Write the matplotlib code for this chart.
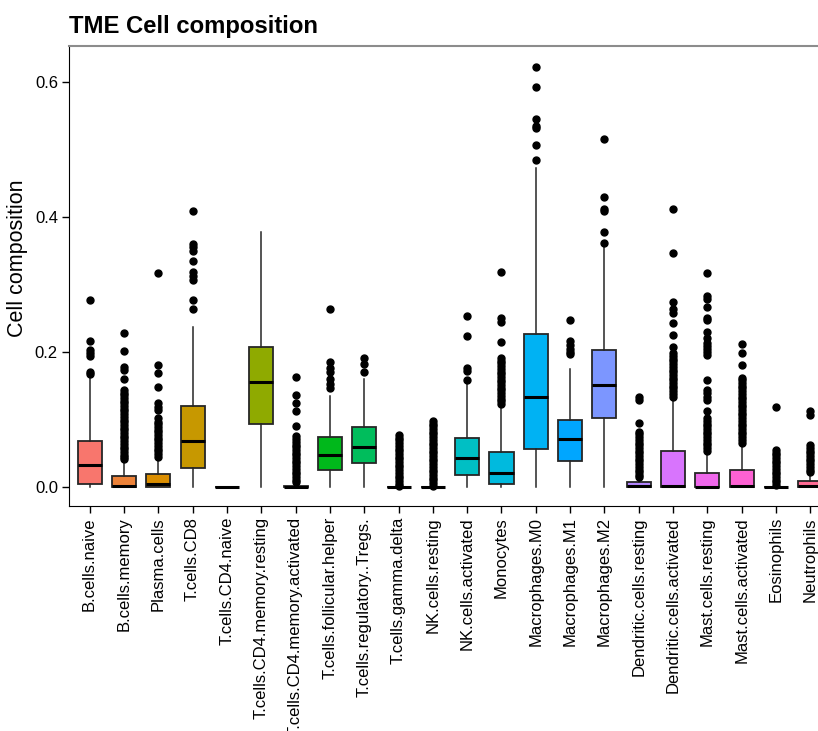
import matplotlib
matplotlib.use("Agg")
import matplotlib.pyplot as plt
import numpy as np

plt.rcParams['font.family'] = ['Liberation Sans', 'DejaVu Sans']

cell_types = ["B.cells.naive", "B.cells.memory", "Plasma.cells", "T.cells.CD8",
              "T.cells.CD4.naive", "T.cells.CD4.memory.resting",
              "T.cells.CD4.memory.activated", "T.cells.follicular.helper",
              "T.cells.regulatory..Tregs.", "T.cells.gamma.delta", "NK.cells.resting",
              "NK.cells.activated", "Monocytes", "Macrophages.M0", "Macrophages.M1",
              "Macrophages.M2", "Dendritic.cells.resting", "Dendritic.cells.activated",
              "Mast.cells.resting", "Mast.cells.activated", "Eosinophils", "Neutrophils"]

# box statistics
q1 = [0.004, 0.000, 0.000, 0.028, 0.000, 0.094, 0.000, 0.026, 0.036, 0.000, 0.000,
      0.018, 0.004, 0.056, 0.039, 0.103, 0.000, 0.000, 0.000, 0.000, 0.000, 0.000]
med = [0.032, 0.001, 0.005, 0.068, 0.000, 0.156, 0.000, 0.047, 0.060, 0.000, 0.000,
       0.043, 0.021, 0.133, 0.071, 0.151, 0.001, 0.002, 0.000, 0.001, 0.000, 0.001]
q3 = [0.068, 0.017, 0.019, 0.120, 0.000, 0.208, 0.002, 0.074, 0.089, 0.000, 0.000,
      0.072, 0.052, 0.226, 0.100, 0.203, 0.007, 0.054, 0.021, 0.026, 0.000, 0.009]
whis_lo = [0.0] * 22
whis_hi = [0.163, 0.037, 0.042, 0.237, 0.000, 0.378, 0.004, 0.135, 0.160, 0.000, 0.000,
           0.152, 0.119, 0.472, 0.175, 0.355, 0.013, 0.131, 0.050, 0.062, 0.000, 0.016]

outliers = [
    [0.277, 0.216, 0.203, 0.198, 0.194, 0.171, 0.167],
    [0.228, 0.202, 0.178, 0.173, 0.160, 0.144, 0.140, 0.136, 0.132, 0.128, 0.124, 0.120,
     0.116, 0.112, 0.108, 0.104, 0.100, 0.096, 0.092, 0.088, 0.084, 0.080, 0.076, 0.072,
     0.068, 0.064, 0.060, 0.056, 0.052, 0.048, 0.044, 0.041],
    [0.317, 0.181, 0.169, 0.148, 0.125, 0.119, 0.114, 0.102, 0.097, 0.093, 0.089, 0.085,
     0.081, 0.077, 0.073, 0.069, 0.065, 0.061, 0.057, 0.053, 0.049, 0.045],
    [0.408, 0.360, 0.355, 0.350, 0.334, 0.319, 0.313, 0.306, 0.277, 0.264],
    [],
    [],
    [0.163, 0.137, 0.125, 0.113, 0.090, 0.075, 0.071, 0.067, 0.063, 0.059, 0.055, 0.051,
     0.047, 0.043, 0.039, 0.035, 0.031, 0.027, 0.023, 0.019, 0.015, 0.011, 0.007],
    [0.263, 0.185, 0.176, 0.171, 0.160, 0.153, 0.146],
    [0.191, 0.182, 0.170],
    [0.077, 0.073, 0.069, 0.065, 0.061, 0.057, 0.053, 0.049, 0.045, 0.041, 0.037, 0.033,
     0.029, 0.025, 0.021, 0.017, 0.013, 0.009, 0.005, 0.002],
    [0.098, 0.094, 0.090, 0.086, 0.082, 0.078, 0.074, 0.070, 0.066, 0.062, 0.058, 0.054,
     0.050, 0.046, 0.042, 0.038, 0.034, 0.030, 0.026, 0.022, 0.018, 0.014, 0.010, 0.006,
     0.002],
    [0.253, 0.224, 0.176, 0.172, 0.158],
    [0.318, 0.251, 0.245, 0.215, 0.191, 0.187, 0.183, 0.179, 0.175, 0.171, 0.167, 0.163,
     0.159, 0.155, 0.151, 0.147, 0.143, 0.139, 0.135, 0.131, 0.127, 0.123],
    [0.622, 0.592, 0.545, 0.535, 0.531, 0.507, 0.484],
    [0.247, 0.216, 0.210, 0.205, 0.200, 0.197],
    [0.516, 0.429, 0.412, 0.408, 0.378, 0.362],
    [0.134, 0.129, 0.095, 0.082, 0.078, 0.074, 0.070, 0.066, 0.062, 0.058, 0.054, 0.050,
     0.046, 0.042, 0.038, 0.034, 0.030, 0.026, 0.022, 0.018, 0.015],
    [0.411, 0.346, 0.274, 0.264, 0.257, 0.243, 0.225, 0.208, 0.198, 0.194, 0.190, 0.186,
     0.182, 0.178, 0.174, 0.170, 0.166, 0.162, 0.158, 0.154, 0.150, 0.146, 0.142, 0.138,
     0.134],
    [0.317, 0.283, 0.279, 0.266, 0.251, 0.247, 0.229, 0.220, 0.213, 0.209, 0.205, 0.200,
     0.196, 0.159, 0.144, 0.139, 0.134, 0.129, 0.112, 0.102, 0.098, 0.094, 0.090, 0.086,
     0.082, 0.078, 0.074, 0.070, 0.066, 0.062, 0.058, 0.054],
    [0.212, 0.199, 0.181, 0.162, 0.158, 0.154, 0.150, 0.146, 0.142, 0.138, 0.134, 0.130,
     0.126, 0.122, 0.118, 0.114, 0.110, 0.106, 0.102, 0.098, 0.094, 0.090, 0.086, 0.082,
     0.078, 0.074, 0.070, 0.066],
    [0.119, 0.055, 0.051, 0.047, 0.043, 0.039, 0.035, 0.031, 0.027, 0.023, 0.019, 0.015,
     0.011, 0.007, 0.003],
    [0.112, 0.106, 0.062, 0.058, 0.054, 0.050, 0.046, 0.042, 0.038, 0.034, 0.030, 0.026,
     0.022],
]


def hcl_hex(h, c=100, l=65):
    # polar LUV -> sRGB, same as R's hcl()
    h = np.deg2rad(h)
    U, V = c * np.cos(h), c * np.sin(h)
    Xn, Yn, Zn = 95.047, 100.0, 108.883
    Y = Yn * ((l + 16) / 116) ** 3
    d = Xn + 15 * Yn + 3 * Zn
    u = U / (13 * l) + 4 * Xn / d
    v = V / (13 * l) + 9 * Yn / d
    X = 9 * Y * u / (4 * v)
    Z = -X / 3 - 5 * Y + 3 * Y / v
    M = np.array([[3.240479, -1.537150, -0.498535],
                  [-0.969256, 1.875992, 0.041556],
                  [0.055648, -0.204043, 1.057311]])
    lin = M @ (np.array([X, Y, Z]) / 100)
    out = []
    for t in lin:
        t = 12.92 * t if t <= 0.0031308 else 1.055 * t ** (1 / 2.4) - 0.055
        out.append(min(max(t, 0), 1))
    return tuple(out)


n = len(cell_types)
colors = [hcl_hex(h) for h in np.linspace(15, 375, n + 1)[:-1]]

fig = plt.figure(figsize=(8.18, 7.31), dpi=100)
# panel runs past the right edge of the image, as in the original
ax = fig.add_axes([69 / 818, 225 / 731, 762 / 818, 460 / 731])

stats = []
for i in range(n):
    stats.append(dict(label=cell_types[i], q1=q1[i], med=med[i], q3=q3[i],
                      whislo=whis_lo[i], whishi=whis_hi[i], fliers=outliers[i]))

bp = ax.bxp(stats, positions=np.arange(1, n + 1), widths=0.7, patch_artist=True,
            showcaps=False,
            boxprops=dict(edgecolor='#262626', linewidth=1.3),
            medianprops=dict(color='black', linewidth=2.2),
            whiskerprops=dict(color='#262626', linewidth=1.1),
            flierprops=dict(marker='o', markerfacecolor='black', markeredgecolor='black',
                            markersize=5))
for patch, col in zip(bp['boxes'], colors):
    patch.set_facecolor(col)

ax.set_xlim(0.4, n + 0.6)
ax.set_ylim(-0.028, 0.653)
ax.set_yticks([0.0, 0.2, 0.4, 0.6])
ax.set_yticklabels(["0.0", "0.2", "0.4", "0.6"])
ax.set_xticks(np.arange(1, n + 1))
ax.set_xticklabels(cell_types, rotation=90)
ax.tick_params(direction='out', length=5, width=1, labelsize=12, pad=3, colors='black')

ax.spines['right'].set_visible(False)
ax.spines['top'].set_color('#8c8c8c')
ax.spines['top'].set_linewidth(1.5)
ax.spines['left'].set_color('black')
ax.spines['bottom'].set_color('black')

fig.text(69 / 818, 1 - 33 / 731, "TME Cell composition", fontsize=17.2, fontweight='bold',
         ha='left', va='baseline')
fig.text(18 / 818, 1 - 258 / 731, "Cell composition", fontsize=15.5, rotation=90,
         ha='center', va='center')

fig.savefig("out.png", dpi=100)
